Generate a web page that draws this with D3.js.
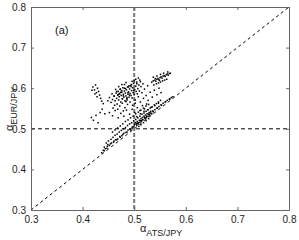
<!DOCTYPE html>
<html lang="en">
<head>
    <style>
        body { margin: 0; background: #fff; }
        svg { font-family: "Liberation Sans", Arial, sans-serif; }
        .dot { fill: #000; }
    </style>
    <script src="https://d3js.org/d3.v7.min.js"></script>
</head>
<body>
    <svg width="299" height="240"></svg>
    <script>
        // alpha values
        var atsJpy = [
            0.455,0.458,0.461,0.463,0.465,0.466,0.468,0.469,0.470,0.471,0.472,0.473,0.474,0.475,0.476,0.477,0.478,0.479,0.480,0.481,
            0.482,0.483,0.484,0.485,0.486,0.487,0.488,0.489,0.490,0.491,0.492,0.493,0.494,0.495,0.496,0.497,0.498,0.499,0.500,0.501,
            0.502,0.503,0.504,0.505,0.506,0.507,0.508,0.509,0.510,0.511,0.513,0.515,0.517,0.462,0.467,0.472,0.477,0.482,0.487,0.492,
            0.497,0.502,0.457,0.464,0.470,0.476,0.484,0.490,0.496,0.503,0.508,0.452,0.449,0.459,0.468,0.479,0.486,0.491,0.474,0.481,
            0.420,0.423,0.425,0.427,0.429,0.431,0.433,0.428,0.435,0.437,0.424,0.440,0.418,
            0.417,0.421,0.426,0.430,0.434,0.438,0.443,
            0.452,0.458,0.463,0.469,0.474,0.480,0.485,0.491,0.496,0.501,0.506,0.511,0.516,0.520,0.524,0.512,0.518,0.523,0.527,0.531,
            0.535,0.539,0.544,0.548,0.552,0.520,0.526,
            0.534,0.537,0.540,0.542,0.544,0.546,0.548,0.550,0.552,0.554,0.556,0.558,0.560,0.562,0.564,0.566,0.568,0.570,0.543,0.547,
            0.551,0.555,0.559,0.538,0.563,
            0.440,0.444,0.448,0.452,0.456,0.460,0.464,0.468,0.472,0.476,0.480,0.484,0.488,0.492,0.496,0.500,0.504,0.508,0.512,0.516,
            0.520,0.524,0.528,0.532,0.536,0.540,0.544,0.548,0.552,0.556,0.560,0.564,0.568,0.572,
            0.446,0.450,0.455,0.459,0.463,0.467,0.471,0.475,0.479,0.483,0.487,0.491,0.495,0.499,0.503,0.507,0.511,0.515,0.519,0.523,
            0.527,0.531,0.535,0.539,0.543,0.547,0.551,
            0.458,0.463,0.468,0.473,0.478,0.483,0.488,0.493,0.498,0.503,0.508,0.513,0.518,0.523,0.528,
            0.501,0.503,0.505,0.506,0.508,0.510,0.511,0.513,0.514,0.516,0.517,0.519,0.521,0.522,0.524,0.525,0.527,0.529,0.530,0.532,
            0.534,0.509,0.513,0.518,0.523,0.528,0.437,0.442,0.447,
            0.442,0.449,0.454,0.461,0.466,0.473,0.478,0.486,0.493,0.498,0.506,0.514,0.521,0.529,0.537,0.545,0.553,0.561,0.569,0.575,
            0.471,0.476,0.479,0.483,0.488,0.494,0.499,0.486,0.481,0.473,0.466,0.461,0.495,0.500,0.505,0.512,0.477,0.484,0.489,0.469,
            0.537,0.544,0.551,0.557,0.565,0.549,0.541,0.505,0.512,0.519,0.526,0.533,0.540,0.547
        ];
        var eurJpy = [
            0.565,0.572,0.580,0.569,0.588,0.575,0.583,0.592,0.571,0.579,0.586,0.597,0.566,0.582,0.590,0.574,0.601,0.585,0.578,0.593,
            0.569,0.588,0.581,0.596,0.574,0.603,0.585,0.591,0.578,0.598,0.587,0.607,0.582,0.594,0.576,0.601,0.589,0.612,0.584,0.596,
            0.571,0.605,0.592,0.615,0.586,0.599,0.579,0.608,0.593,0.620,0.604,0.589,0.611,0.558,0.561,0.556,0.563,0.552,0.560,0.566,
            0.558,0.563,0.586,0.597,0.604,0.609,0.614,0.606,0.617,0.622,0.625,0.577,0.569,0.551,0.548,0.544,0.571,0.583,0.590,0.600,
            0.603,0.596,0.608,0.589,0.600,0.592,0.583,0.579,0.575,0.568,0.586,0.562,0.595,
            0.528,0.521,0.533,0.515,0.540,0.548,0.537,
            0.540,0.532,0.545,0.527,0.538,0.531,0.546,0.536,0.548,0.540,0.552,0.545,0.557,0.549,0.561,0.566,0.575,0.582,0.570,0.590,
            0.578,0.595,0.584,0.600,0.589,0.598,0.606,
            0.615,0.618,0.620,0.617,0.622,0.624,0.621,0.626,0.628,0.625,0.630,0.631,0.629,0.633,0.635,0.632,0.636,0.637,0.611,0.613,
            0.615,0.618,0.620,0.608,0.622,
            0.447,0.451,0.457,0.459,0.465,0.467,0.473,0.475,0.481,0.483,0.489,0.491,0.497,0.499,0.504,0.507,0.512,0.515,0.520,0.523,
            0.528,0.531,0.536,0.539,0.544,0.547,0.551,0.555,0.559,0.563,0.566,0.570,0.573,0.577,
            0.465,0.470,0.474,0.479,0.484,0.487,0.492,0.496,0.500,0.503,0.508,0.512,0.515,0.520,0.523,0.527,0.531,0.536,0.539,0.543,
            0.547,0.551,0.554,0.559,0.562,0.566,0.570,
            0.492,0.497,0.502,0.507,0.512,0.518,0.522,0.527,0.531,0.537,0.541,0.546,0.551,0.556,0.560,
            0.511,0.515,0.509,0.518,0.512,0.521,0.516,0.525,0.519,0.528,0.522,0.531,0.525,0.534,0.528,0.537,0.531,0.540,0.534,0.543,
            0.537,0.506,0.510,0.515,0.520,0.525,0.441,0.446,0.452,
            0.455,0.461,0.463,0.470,0.473,0.479,0.486,0.492,0.497,0.505,0.513,0.520,0.527,0.536,0.542,0.551,0.558,0.567,0.574,0.579,
            0.587,0.594,0.581,0.599,0.589,0.604,0.595,0.577,0.609,0.598,0.592,0.581,0.609,0.618,0.611,0.616,0.574,0.567,0.603,0.584,
            0.627,0.630,0.634,0.637,0.640,0.619,0.624,0.530,0.537,0.543,0.547,0.553,0.557,0.563
        ];
        var tickValues = [0.3, 0.4, 0.5, 0.6, 0.7, 0.8];
        var refLevel = 0.5;

        var svg = d3.select("svg"),
            plotLeft = 31, plotRight = 289, plotTop = 7, plotBottom = 210;

        var x = d3.scaleLinear().domain([0.3, 0.8]).range([plotLeft, plotRight]),
            y = d3.scaleLinear().domain([0.3, 0.8]).range([plotBottom, plotTop]);

        // reference lines
        svg.append("line")
            .attr("x1", x(0.3)).attr("y1", y(0.3))
            .attr("x2", x(0.8)).attr("y2", y(0.8))
            .attr("stroke", "#000").attr("stroke-width", 1)
            .attr("stroke-dasharray", "3,3");

        svg.append("line")
            .attr("x1", x(0.3)).attr("y1", y(refLevel))
            .attr("x2", x(0.8)).attr("y2", y(refLevel))
            .attr("stroke", "#000").attr("stroke-width", 1)
            .attr("stroke-dasharray", "4,3");

        svg.append("line")
            .attr("x1", x(refLevel)).attr("y1", y(0.8))
            .attr("x2", x(refLevel)).attr("y2", y(0.3))
            .attr("stroke", "#777").attr("stroke-width", 2)
            .attr("stroke-dasharray", "4,2");

        // points
        svg.selectAll(".dot")
            .data(atsJpy)
            .enter().append("rect")
            .attr("class", "dot")
            .attr("x", function(d) { return x(d) - 0.75; })
            .attr("y", function(d, i) { return y(eurJpy[i]) - 0.75; })
            .attr("width", 1.5)
            .attr("height", 1.5);

        // axes, ticks inside on all sides
        var axisColor = "#666";
        var gB = svg.append("g").attr("transform", "translate(0," + plotBottom + ")")
            .call(d3.axisBottom(x).tickValues(tickValues).tickSizeInner(-3).tickSizeOuter(0).tickPadding(6).tickFormat(d3.format(".1f")));
        var gL = svg.append("g").attr("transform", "translate(" + plotLeft + ",0)")
            .call(d3.axisLeft(y).tickValues(tickValues).tickSizeInner(-3).tickSizeOuter(0).tickPadding(5).tickFormat(d3.format(".1f")));
        var gT = svg.append("g").attr("transform", "translate(0," + plotTop + ")")
            .call(d3.axisTop(x).tickValues(tickValues).tickSizeInner(-3).tickSizeOuter(0).tickFormat(""));
        var gR = svg.append("g").attr("transform", "translate(" + plotRight + ",0)")
            .call(d3.axisRight(y).tickValues(tickValues).tickSizeInner(-3).tickSizeOuter(0).tickFormat(""));

        [gB, gL, gT, gR].forEach(function(g) {
            g.select(".domain").attr("stroke", axisColor);
            g.selectAll(".tick line").attr("stroke", axisColor);
            g.selectAll(".tick text").attr("fill", "#222").attr("font-size", "10px")
             .attr("font-family", "Liberation Sans, Arial, sans-serif");
        });

        // panel label
        svg.append("text")
            .attr("x", 55).attr("y", 34)
            .attr("font-size", "11px")
            .attr("fill", "#111")
            .text("(a)");

        // axis labels
        var xl = svg.append("text")
            .attr("x", 140).attr("y", 232)
            .attr("font-size", "11px").attr("fill", "#222");
        xl.append("tspan").text("α");
        xl.append("tspan").attr("dy", 4).attr("font-size", "9px").text("ATS/JPY");

        var yl = svg.append("text")
            .attr("transform", "translate(13,131) rotate(-90)")
            .attr("font-size", "11px").attr("fill", "#222");
        yl.append("tspan").text("α");
        yl.append("tspan").attr("dy", 4).attr("font-size", "9px").text("EUR/JPY");
    </script>
</body>
</html>
